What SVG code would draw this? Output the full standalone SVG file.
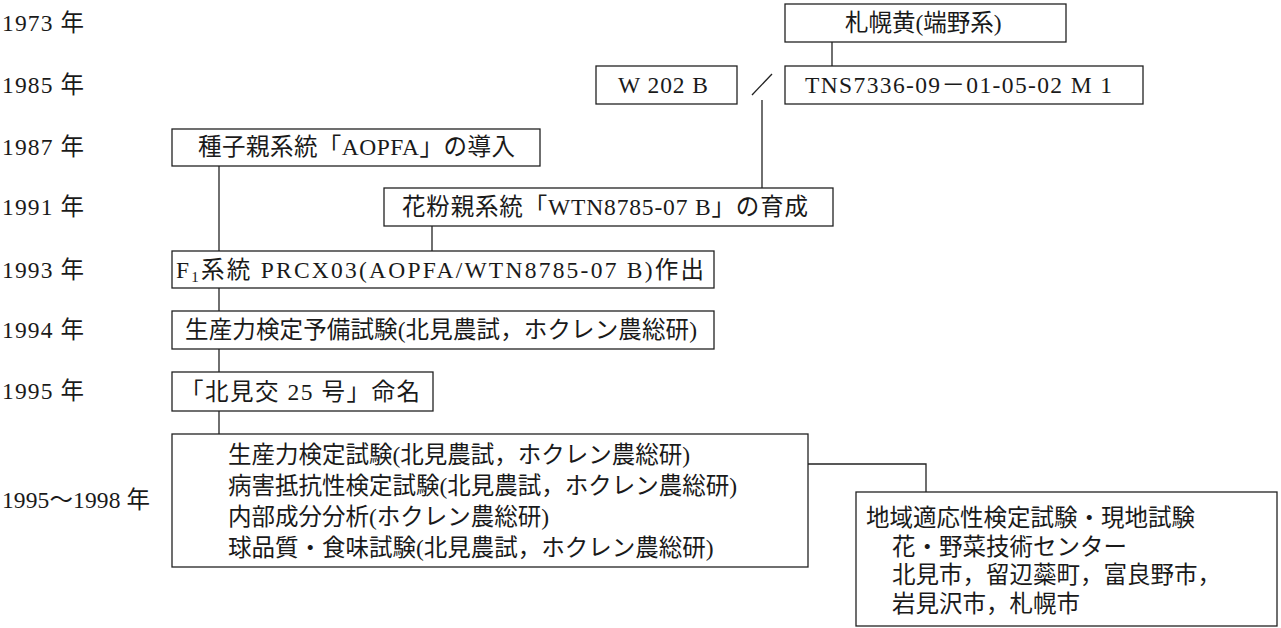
<svg xmlns="http://www.w3.org/2000/svg" width="1281" height="628" viewBox="0 0 1281 628">
<style>
text{font-family:"Liberation Serif","Noto Sans CJK JP",serif;font-size:23.5px;fill:#1a1a1a}
.box{fill:#fff;stroke:#222;stroke-width:1.3}
.con{fill:none;stroke:#222;stroke-width:1.3}
</style>
<rect width="1281" height="628" fill="#fff"/>
<g id="years">
<text x="2" y="31" textLength="82" lengthAdjust="spacing">1973 年</text>
<text x="2" y="93" textLength="82" lengthAdjust="spacing">1985 年</text>
<text x="2" y="155" textLength="82" lengthAdjust="spacing">1987 年</text>
<text x="2" y="215" textLength="82" lengthAdjust="spacing">1991 年</text>
<text x="2" y="278" textLength="82" lengthAdjust="spacing">1993 年</text>
<text x="2" y="338" textLength="82" lengthAdjust="spacing">1994 年</text>
<text x="2" y="399" textLength="82" lengthAdjust="spacing">1995 年</text>
<text x="2" y="508" textLength="148" lengthAdjust="spacing">1995～1998 年</text>
</g>
<g id="connectors">
<line class="con" x1="832" y1="42" x2="832" y2="66"/>
<line class="con" x1="752" y1="95" x2="772" y2="74"/>
<line class="con" x1="762" y1="100" x2="762" y2="188"/>
<line class="con" x1="219" y1="166" x2="219" y2="251"/>
<line class="con" x1="432" y1="226" x2="432" y2="251"/>
<line class="con" x1="219" y1="288" x2="219" y2="311"/>
<line class="con" x1="219" y1="349" x2="219" y2="372"/>
<line class="con" x1="219" y1="411" x2="219" y2="434"/>
<polyline class="con" points="808,464 926,464 926,492"/>
</g>
<g id="sapporo">
<rect class="box" x="785" y="4" width="281" height="38"/>
<text x="845" y="31">札幌黄(端野系)</text>
</g>
<g id="w202b">
<rect class="box" x="596" y="66" width="141" height="38"/>
<text x="618" y="93" textLength="90" lengthAdjust="spacing">W 202 B</text>
</g>
<g id="tns">
<rect class="box" x="785" y="66" width="358" height="38"/>
<text x="805" y="93" textLength="307" lengthAdjust="spacing">TNS7336-09－01-05-02 M 1</text>
</g>
<g id="aopfa">
<rect class="box" x="172" y="129" width="368" height="37"/>
<text x="198" y="155" textLength="317" lengthAdjust="spacing">種子親系統「AOPFA」の導入</text>
</g>
<g id="wtn">
<rect class="box" x="384" y="188" width="449" height="38"/>
<text x="402" y="215" textLength="406" lengthAdjust="spacing">花粉親系統「WTN8785-07 B」の育成</text>
</g>
<g id="f1">
<rect class="box" x="172" y="251" width="542" height="37"/>
<text x="176" y="278" textLength="528" lengthAdjust="spacing">F<tspan font-size="15" dy="4">1</tspan><tspan dy="-4">系統 PRCX03(AOPFA/WTN8785-07 B)作出</tspan></text>
</g>
<g id="prelim">
<rect class="box" x="172" y="311" width="542" height="38"/>
<text x="185" y="338" textLength="512" lengthAdjust="spacing">生産力検定予備試験(北見農試，ホクレン農総研)</text>
</g>
<g id="naming">
<rect class="box" x="172" y="372" width="261" height="39"/>
<text x="180" y="400" textLength="240" lengthAdjust="spacing">「北見交 25 号」命名</text>
</g>
<g id="trials">
<rect class="box" x="172" y="434" width="636" height="133"/>
<text x="228" y="463">生産力検定試験(北見農試，ホクレン農総研)</text>
<text x="228" y="494">病害抵抗性検定試験(北見農試，ホクレン農総研)</text>
<text x="228" y="525">内部成分分析(ホクレン農総研)</text>
<text x="228" y="556">球品質・食味試験(北見農試，ホクレン農総研)</text>
</g>
<g id="regional">
<rect class="box" x="856" y="492" width="421" height="134"/>
<text x="866" y="526">地域適応性検定試験・現地試験</text>
<text x="892" y="555">花・野菜技術センター</text>
<text x="892" y="583">北見市，留辺蘂町，富良野市，</text>
<text x="892" y="612">岩見沢市，札幌市</text>
</g>
</svg>
